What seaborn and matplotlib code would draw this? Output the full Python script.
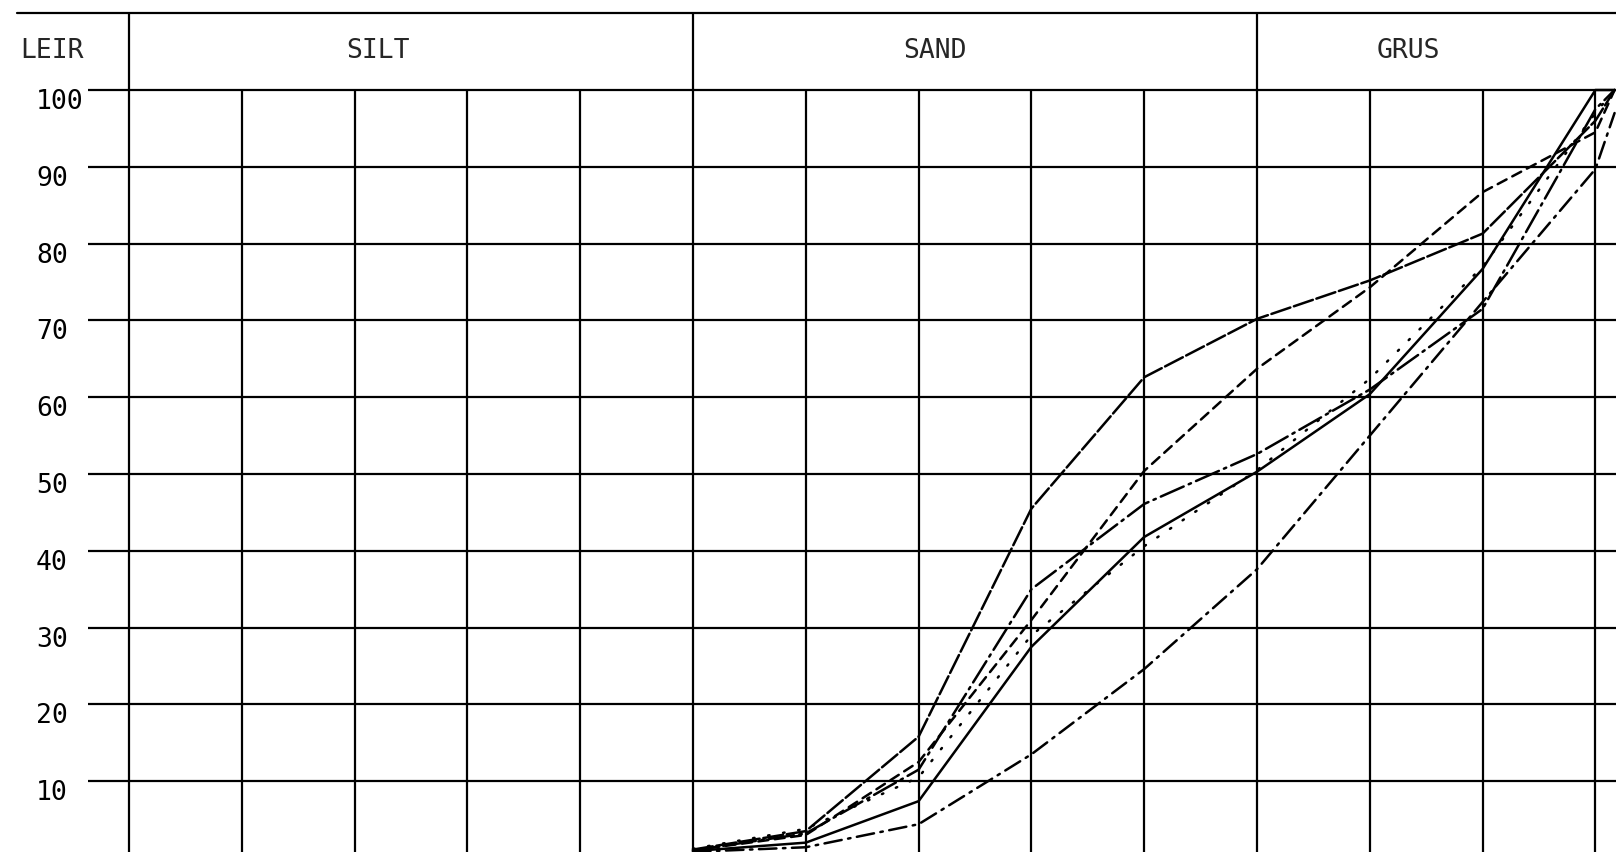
import numpy as np
import pandas as pd
import matplotlib
matplotlib.use("Agg")
import matplotlib.pyplot as plt
import matplotlib.transforms as mtransforms
import seaborn as sns

# ---- data ---------------------------------------------------------------
# grain size (mm) of the sieves, plotted on a log2 axis
sizes_mm = [0.0625, 0.125, 0.25, 0.5, 1, 2, 4, 8, 16, 18]
# cumulative % passing for six samples
sample_a = [1.1, 3.5, 15.8, 45.5, 62.6, 70.2, 75.2, 81.3, 96.0, 100]
sample_b = [1.0, 3.0, 12.5, 31.0, 50.4, 63.7, 74.3, 86.7, 94.5, 100]
sample_c = [1.0, 3.2, 11.5, 35.0, 46.1, 52.6, 61.0, 71.5, 97.5, 100]
sample_d = [0.9, 2.0, 7.4, 27.5, 41.8, 50.3, 60.4, 76.7, 100, 100]
sample_e = [1.2, 3.8, 10.5, 29.0, 40.6, 50.5, 62.4, 77.0, 97.0, 100]
sample_f = [0.8, 1.4, 4.4, 13.5, 24.6, 37.6, 55.0, 72.4, 89.7, 97.0]
sample_names = ["A", "B", "C", "D", "E", "F"]

# grid / class boundaries (mm)
grid_sizes = [2.0 ** k for k in range(-8, 5)]
class_bounds = [2.0 ** -9, 2.0 ** -4, 2.0]
class_names = ["SILT", "SAND", "GRUS"]
class_label_x = [0.0090, 0.277, 5.06]
clay_label = "LEIR"
clay_label_x = 0.00122
y_ticks = [10, 20, 30, 40, 50, 60, 70, 80, 90, 100]
y_tick_labels = ["10", "20", "30", "40", "50", "60", "70", "80", "90", "100"]

# ---- figure ---------------------------------------------------------------
sns.set_style("white")
plt.rcParams["font.family"] = ["DejaVu Sans Mono", "DejaVu Sans"]

W, H = 1616, 853
fig = plt.figure(figsize=(W / 100, H / 100), dpi=100)
ax = fig.add_axes([129 / W, 0, (W - 129) / W, (H - 14) / H])

series = [sample_a, sample_b, sample_c, sample_d, sample_e, sample_f]
df = pd.DataFrame({
    "size": sizes_mm * len(series),
    "pct": np.concatenate(series),
    "sample": np.repeat(sample_names, len(sizes_mm)),
})

dashes = {
    "A": (8, 1.5),
    "B": (4, 2.6),
    "C": (10, 2.2, 1.0, 2.2),
    "D": "",
    "E": (0.6, 5.5),
    "F": (7, 2.6, 1.0, 2.6),
}

ax.set_xscale("log", base=2)
x_right = 2.0 ** (-9 + (W - 129) / 112.8)
ax.set_xlim(class_bounds[0], x_right)
ymin = 100 - (H - 91) / 7.68
ytop = 110
ax.set_ylim(ymin, 100 + 77 / 7.68)

lw_grid = 1.6
# horizontal grid lines
for yv in y_ticks:
    ax.hlines(yv, class_bounds[0], x_right, color="black", lw=lw_grid, zorder=1)
# vertical grid lines
for xv in grid_sizes:
    top = ytop if xv in class_bounds else 100
    ax.vlines(xv, ymin, top, color="black", lw=lw_grid, zorder=1)
ax.vlines(class_bounds[0], ymin, ytop, color="black", lw=lw_grid, zorder=1,
          clip_on=False)
# header top line
ax.plot([2.0 ** (-9 - 112 / 112.8), x_right], [ytop, ytop], color="black",
        lw=lw_grid, clip_on=False, zorder=1)

sns.lineplot(data=df, x="size", y="pct", hue="sample", style="sample",
             palette=["black"] * len(sample_names), dashes=dashes,
             estimator=None, sort=True, legend=False, lw=1.8, ax=ax, zorder=3)
for ln in ax.get_lines():
    ln.set_dash_capstyle("round")

for s in ax.spines.values():
    s.set_visible(False)

ax.set_xticks([])
ax.set_xticks([], minor=True)
ax.set_yticks(y_ticks)
ax.set_yticklabels(y_tick_labels, ha="left", fontsize=19)
ax.tick_params(axis="y", left=True, labelleft=True, length=29.5, width=lw_grid,
               pad=37.5, color="black", labelcolor="black", direction="out")
offset = mtransforms.ScaledTranslation(0, -0.08, fig.dpi_scale_trans)
for lab in ax.get_yticklabels():
    lab.set_transform(lab.get_transform() + offset)
ax.set_xlabel("")
ax.set_ylabel("")

hdr_y = 100 + (91 - 51) / 7.68
for name, xv in zip(class_names, class_label_x):
    ax.text(xv, hdr_y, name, ha="center", va="center", fontsize=19)
ax.text(clay_label_x, hdr_y, clay_label, ha="center", va="center",
        fontsize=19, clip_on=False)

fig.savefig("out.png", dpi=100, facecolor="white")
